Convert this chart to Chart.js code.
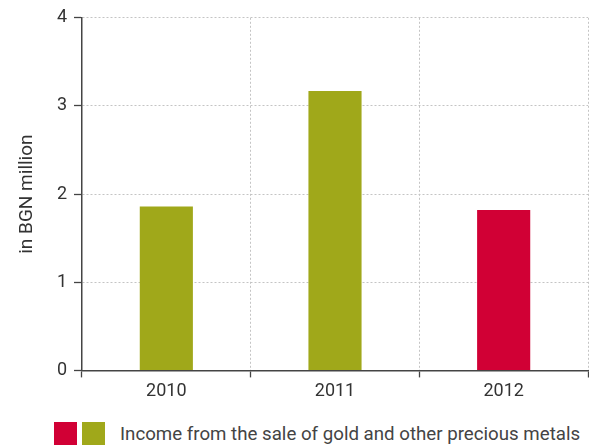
<!DOCTYPE html>
<html>
<head>
<meta charset="utf-8">
<script src="https://cdn.jsdelivr.net/npm/chart.js@4"></script>
<style>
  html, body { margin: 0; padding: 0; background: #fff; }
  #wrap { position: relative; width: 589px; height: 447px; }
  #chart { position: absolute; left: 0; top: 0; }
  #legend { position: absolute; left: 54px; top: 422px; height: 23px; display: flex; align-items: center;
            font-family: Roboto, sans-serif; font-size: 18.7px; color: #444; white-space: nowrap; }
  #legend .sw { width: 23px; height: 23px; margin-right: 5px; }
  #legend .txt { margin-left: 10px; }
</style>
</head>
<body>
<div id="wrap">
  <canvas id="chart" width="589" height="405"></canvas>
  <div id="legend"></div>
</div>
<script>
const years = ['2010', '2011', '2012'];
const income = [1.86, 3.17, 1.82];
const barColors = ['#a0a81a', '#a0a81a', '#d10035'];
const yTicks = [0, 1, 2, 3, 4];
const legendLabel = 'Income from the sale of gold and other precious metals';
const legendColors = ['#d10035', '#a0a81a'];

const ctx = document.getElementById('chart');
const dark = '#444';
const dots = '#c4c4c4';

new Chart(ctx, {
    type: 'bar',
    data: {
        labels: years,
        datasets: [{
            label: legendLabel,
            data: income,
            backgroundColor: barColors,
            borderWidth: 0,
            barPercentage: 0.315,
            categoryPercentage: 1
        }]
    },
    options: {
        responsive: false,
        animation: false,
        layout: { padding: { left: 16, right: 1, top: 7, bottom: 0 } },
        plugins: {
            legend: { display: false },
            tooltip: { enabled: false }
        },
        scales: {
            x: {
                offset: true,
                grid: {
                    offset: true,
                    color: dots,
                    tickColor: dark,
                    tickBorderDash: [],
                    tickLength: 7,
                    tickWidth: 1.3
                },
                border: { color: dark, width: 1.5, dash: [2, 2] },
                ticks: { color: '#333', padding: 3, font: { family: 'Roboto', size: 18 } }
            },
            y: {
                min: 0,
                max: 4,
                afterBuildTicks: s => { s.ticks = yTicks.map(v => ({ value: v })); },
                afterFit: s => { s.width = 66; },
                grid: {
                    color: ctx => ctx.tick && ctx.tick.value === 0 ? 'rgba(0,0,0,0)' : dots,
                    tickColor: dark,
                    tickBorderDash: [],
                    tickLength: 8,
                    tickWidth: 1.3
                },
                border: { color: dark, width: 1.5, dash: [2, 2] },
                ticks: { color: '#333', padding: 7, font: { family: 'Roboto', size: 18 } },
                title: {
                    display: true,
                    text: 'in BGN million',
                    color: '#333',
                    padding: { top: 0, bottom: 0 },
                    font: { family: 'Roboto', size: 19 }
                }
            }
        }
    }
});

// legend below the chart: two swatches then the series name
const legend = document.getElementById('legend');
for (const c of legendColors) {
    const sw = document.createElement('div');
    sw.className = 'sw';
    sw.style.background = c;
    legend.appendChild(sw);
}
const txt = document.createElement('span');
txt.className = 'txt';
txt.textContent = legendLabel;
legend.appendChild(txt);
</script>
</body>
</html>
